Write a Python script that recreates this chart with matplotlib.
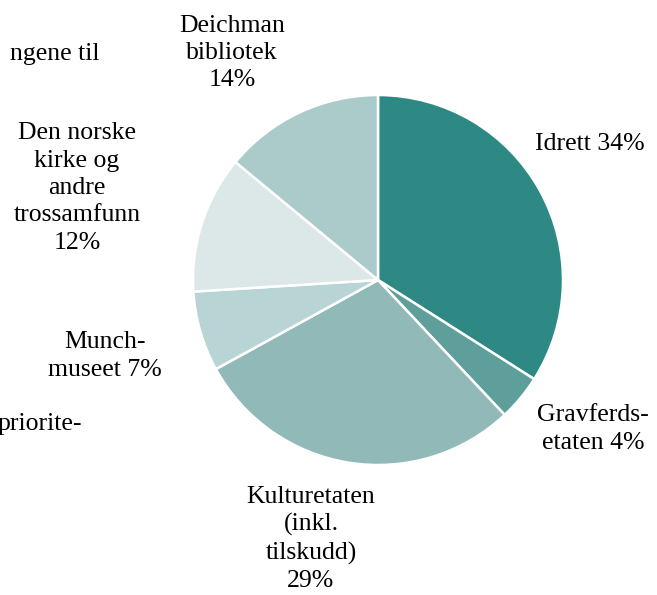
import matplotlib.pyplot as plt

W, H = 657, 595

# slices, clockwise from 12 o'clock
categories = ["Idrett", "Gravferdsetaten", "Kulturetaten", "Munchmuseet",
              "Den norske kirke og andre trossamfunn", "Deichman bibliotek"]
shares = [34, 4, 29, 7, 12, 14]
label_texts = [
    "Idrett 34%",
    "Gravferds-\netaten 4%",
    "Kulturetaten\n(inkl.\ntilskudd)\n29%",
    "Munch-\nmuseet 7%",
    "Den norske\nkirke og\nandre\ntrossamfunn\n12%",
    "Deichman\nbibliotek\n14%",
]
colors = ["#2E8985", "#5E9E9B", "#91B9B8", "#B9D4D4", "#DCE8E8", "#ABCACA"]

# label centres in image pixels (x, y from top)
label_pos = [(590, 144), (593, 429), (311, 539), (105, 356), (77, 188), (232, 53)]

font = dict(family="Liberation Serif", fontsize=18.5, color="black")


def py(y):
    return H - y


fig = plt.figure(figsize=(W / 100, H / 100), dpi=100)
ax = fig.add_axes([0, 0, 1, 1])

ax.pie(shares, colors=colors, startangle=90, counterclock=False,
       center=(378, py(280)), radius=185,
       wedgeprops=dict(edgecolor="white", linewidth=1.8))

for txt, (x, y) in zip(label_texts, label_pos):
    ax.text(x, py(y), txt, ha="center", va="center", linespacing=1.32, **font)

# text of the page behind the chart, cut at the left edge
ax.text(100, py(60), "ngene til", ha="right", va="baseline", **font)
ax.text(82, py(430), "priorite-", ha="right", va="baseline", **font)

ax.set_xlim(0, W)
ax.set_ylim(0, H)
ax.set_aspect("equal")
ax.axis("off")

fig.savefig("out.png", dpi=100)
